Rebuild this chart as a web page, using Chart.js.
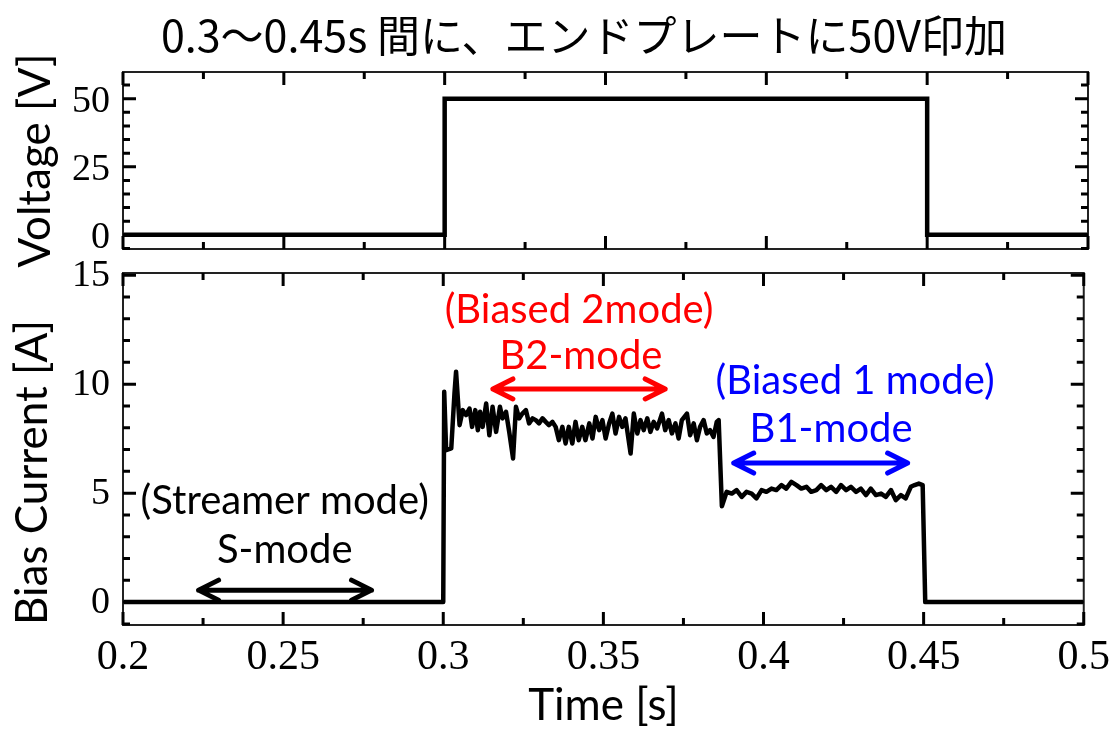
<!DOCTYPE html>
<html>
<head>
<meta charset="utf-8">
<script src="https://cdn.jsdelivr.net/npm/chart.js@4.4.1/dist/chart.umd.min.js"></script>
<style>
  html, body { margin: 0; background: #fff; }
  #wrap { position: relative; width: 1118px; height: 732px; overflow: hidden; }
  #wrap canvas { position: absolute; left: 0; top: 0; }
  #title {
    position: absolute; left: 50px; width: 1068px; top: 8px;
    text-align: center; color: #000;
    font: 43px "Noto Sans CJK JP"; line-height: 50px;
  }
</style>
</head>
<body>
<div id="wrap">
  <canvas id="voltageChart" width="1118" height="732"></canvas>
  <canvas id="currentChart" width="1118" height="732"></canvas>
  <div id="title">0.3〜0.45s 間に、エンドプレートに50V印加</div>
</div>
<script>
// axis ticks
const timeTicks = [0.2, 0.25, 0.3, 0.35, 0.4, 0.45, 0.5];
const voltageTicks = [0, 25, 50];
const currentTicks = [0, 5, 10, 15];

// end plate voltage [V]
const voltageTime = [0.2, 0.3, 0.3, 0.45, 0.45, 0.5];
const voltage = [0, 0, 50, 50, 0, 0];

// bias current [A]
const currentTime = [
  0.2000, 0.3000, 0.3003, 0.3009, 0.3025, 0.3035, 0.3040, 0.3051, 0.3061, 0.3071,
  0.3082, 0.3090, 0.3100, 0.3108, 0.3115, 0.3123, 0.3134, 0.3144, 0.3154, 0.3165,
  0.3177, 0.3185, 0.3196, 0.3206, 0.3218, 0.3227, 0.3237, 0.3247, 0.3258, 0.3268,
  0.3279, 0.3289, 0.3299, 0.3310, 0.3320, 0.3330, 0.3341, 0.3351, 0.3361, 0.3372,
  0.3382, 0.3392, 0.3403, 0.3413, 0.3423, 0.3434, 0.3444, 0.3456, 0.3466, 0.3476,
  0.3487, 0.3497, 0.3507, 0.3518, 0.3528, 0.3538, 0.3549, 0.3559, 0.3569, 0.3585,
  0.3595, 0.3606, 0.3616, 0.3626, 0.3637, 0.3647, 0.3657, 0.3668, 0.3683, 0.3693,
  0.3704, 0.3714, 0.3725, 0.3735, 0.3745, 0.3761, 0.3771, 0.3782, 0.3792, 0.3802,
  0.3813, 0.3823, 0.3833, 0.3844, 0.3854, 0.3860, 0.3870, 0.3885, 0.3901, 0.3916,
  0.3932, 0.3947, 0.3963, 0.3978, 0.3994, 0.4009, 0.4025, 0.4040, 0.4056, 0.4071,
  0.4087, 0.4103, 0.4118, 0.4134, 0.4149, 0.4165, 0.4180, 0.4196, 0.4211, 0.4227,
  0.4242, 0.4258, 0.4273, 0.4289, 0.4304, 0.4320, 0.4335, 0.4351, 0.4367, 0.4382,
  0.4398, 0.4413, 0.4429, 0.4444, 0.4460, 0.4472, 0.4485, 0.4497, 0.4505, 0.5000
];
const current = [
  0, 0, 9.65, 6.97, 7.05, 9.57, 10.57, 8.12, 8.81, 8.58,
  8.88, 8.04, 8.81, 7.89, 8.73, 8.04, 9.11, 7.66, 8.96, 7.81,
  8.96, 8.43, 8.73, 7.81, 6.59, 8.96, 8.43, 8.65, 8.81, 8.20,
  8.43, 8.35, 8.20, 8.43, 8.27, 8.12, 8.27, 8.04, 7.43, 8.04,
  7.28, 8.04, 7.28, 8.27, 7.43, 8.04, 7.43, 8.20, 7.51, 8.50,
  7.89, 8.35, 7.51, 8.20, 8.65, 7.74, 8.50, 8.04, 8.43, 6.82,
  8.65, 7.74, 8.35, 7.89, 8.43, 7.81, 8.27, 7.97, 8.65, 7.89,
  8.35, 7.74, 8.20, 7.51, 8.35, 8.65, 7.66, 8.20, 7.43, 8.04,
  8.35, 7.74, 7.89, 7.58, 8.27, 8.35, 4.40, 5.06, 4.98, 5.14,
  4.83, 5.06, 4.98, 4.76, 5.14, 5.06, 5.21, 5.14, 5.37, 5.21,
  5.52, 5.37, 5.21, 5.29, 5.06, 5.14, 5.37, 5.14, 5.29, 5.06,
  5.37, 5.14, 5.29, 5.06, 5.21, 4.91, 5.21, 4.91, 4.98, 4.83,
  5.14, 4.68, 4.91, 4.76, 5.29, 5.37, 5.44, 5.37, 0, 0
];

const SANS = 'Lato';
const SERIF = 'Liberation Serif';

// closed box with inward major/minor ticks on all four sides
function makeFrame(xStep, xMajor, yStep, yMajor) {
  const isMajor = (v, step) => Math.abs(v / step - Math.round(v / step)) < 1e-6;
  return {
    id: 'frame',
    afterDatasetsDraw(chart) {
      const { ctx, chartArea: a, scales: { x, y } } = chart;
      ctx.save();
      ctx.lineWidth = 2;
      ctx.strokeStyle = '#222';
      ctx.strokeRect(a.left, a.top, a.right - a.left, a.bottom - a.top);
      ctx.strokeStyle = '#000';
      ctx.lineWidth = 3;
      ctx.beginPath();
      for (let i = 0; x.min + i * xStep <= x.max + 1e-9; i++) {
        const v = x.min + i * xStep;
        const len = isMajor(v, xMajor) ? 13 : 7;
        const px = x.getPixelForValue(v);
        ctx.moveTo(px, a.top); ctx.lineTo(px, a.top + len);
        ctx.moveTo(px, a.bottom); ctx.lineTo(px, a.bottom - len);
      }
      for (let i = Math.ceil(y.min / yStep); i * yStep <= y.max + 1e-9; i++) {
        const v = i * yStep;
        const len = isMajor(v, yMajor) ? 13 : 7;
        const py = y.getPixelForValue(v);
        ctx.moveTo(a.left, py); ctx.lineTo(a.left + len, py);
        ctx.moveTo(a.right, py); ctx.lineTo(a.right - len, py);
      }
      ctx.stroke();
      ctx.restore();
    }
  };
}

// mode labels and double-headed arrows, placed in data coordinates
function makeNotes(font, labels, arrows) {
  return {
    id: 'notes',
    afterDatasetsDraw(chart) {
      const { ctx, scales: { x, y } } = chart;
      ctx.save();
      ctx.font = font;
      ctx.textAlign = 'center';
      ctx.textBaseline = 'middle';
      labels.forEach(l => {
        ctx.fillStyle = l.color;
        ctx.fillText(l.text, x.getPixelForValue(l.x), y.getPixelForValue(l.y));
      });
      ctx.lineWidth = 5;
      ctx.lineCap = 'round';
      ctx.lineJoin = 'round';
      arrows.forEach(ar => {
        const x1 = x.getPixelForValue(ar.from);
        const x2 = x.getPixelForValue(ar.to);
        const py = y.getPixelForValue(ar.y);
        ctx.strokeStyle = ar.color;
        ctx.beginPath();
        ctx.moveTo(x1, py); ctx.lineTo(x2, py);
        ctx.moveTo(x1 + 20, py - 10); ctx.lineTo(x1, py); ctx.lineTo(x1 + 20, py + 10);
        ctx.moveTo(x2 - 20, py - 10); ctx.lineTo(x2, py); ctx.lineTo(x2 - 20, py + 10);
        ctx.stroke();
      });
      ctx.restore();
    }
  };
}

const tickFont = { family: SERIF, size: 38 };
const titleFont = { family: SANS, size: 44 };

function yAxis(ticks, min, max, title, align, pad, shift) {
  return {
    min, max,
    afterBuildTicks: s => { s.ticks = ticks.map(v => ({ value: v })); },
    afterFit: s => { s.width = 123; },
    grid: { display: false, drawTicks: false },
    border: { display: false },
    ticks: { font: tickFont, color: '#000', padding: 13, labelOffset: shift, callback: v => String(v) },
    title: { display: true, text: title, align, font: titleFont, color: '#000', padding: { top: pad, bottom: 0 } }
  };
}

new Chart(document.getElementById('voltageChart'), {
  type: 'line',
  data: {
    datasets: [{
      data: voltageTime.map((t, i) => ({ x: t, y: voltage[i] })),
      borderColor: '#000', borderWidth: 4.5, pointRadius: 0, tension: 0
    }]
  },
  options: {
    responsive: false,
    animation: false,
    layout: { padding: { top: 72, bottom: 483, right: 30, left: 0 } },
    plugins: { legend: { display: false }, tooltip: { enabled: false } },
    scales: {
      x: { type: 'linear', display: false, min: 0.2, max: 0.5 },
      y: yAxis(voltageTicks, -5.2, 59.8, 'Voltage [V]', 'center', 9, 3)
    }
  },
  plugins: [makeFrame(0.025, 0.05, 5, 25)]
});

new Chart(document.getElementById('currentChart'), {
  type: 'line',
  data: {
    datasets: [{
      data: currentTime.map((t, i) => ({ x: t, y: current[i] })),
      borderColor: '#000', borderWidth: 4.5, pointRadius: 0, tension: 0,
      borderJoinStyle: 'round'
    }]
  },
  options: {
    responsive: false,
    animation: false,
    layout: { padding: { top: 273, bottom: 0, right: 30, left: 0 } },
    plugins: { legend: { display: false }, tooltip: { enabled: false } },
    scales: {
      x: {
        type: 'linear', min: 0.2, max: 0.5,
        afterBuildTicks: s => { s.ticks = timeTicks.map(v => ({ value: v })); },
        afterFit: s => { s.height = 107; },
        grid: { display: false, drawTicks: false },
        border: { display: false },
        ticks: { font: { family: SERIF, size: 42 }, color: '#000', padding: 8, maxRotation: 0, callback: v => String(v) },
        title: { display: true, text: 'Time [s]', font: titleFont, color: '#000', padding: { top: 0, bottom: 0 } }
      },
      y: yAxis(currentTicks, -1.05, 15.1, 'Bias Current [A]', 'start', 6, 1)
    }
  },
  plugins: [
    makeFrame(0.025, 0.05, 1, 5),
    makeNotes(`40px ${SANS}`, [
      { text: '(Biased 2mode)', x: 0.3424, y: 13.41, color: '#ff0000' },
      { text: 'B2-mode', x: 0.3430, y: 11.30, color: '#ff0000' },
      { text: '(Biased 1 mode)', x: 0.4286, y: 10.13, color: '#0000ff' },
      { text: 'B1-mode', x: 0.4211, y: 7.95, color: '#0000ff' },
      { text: '(Streamer mode)', x: 0.2505, y: 4.62, color: '#000' },
      { text: 'S-mode', x: 0.2505, y: 2.37, color: '#000' }
    ], [
      { from: 0.3155, to: 0.3693, y: 9.78, color: '#ff0000' },
      { from: 0.3907, to: 0.4450, y: 6.38, color: '#0000ff' },
      { from: 0.2236, to: 0.2776, y: 0.55, color: '#000' }
    ])
  ]
});
</script>
</body>
</html>
